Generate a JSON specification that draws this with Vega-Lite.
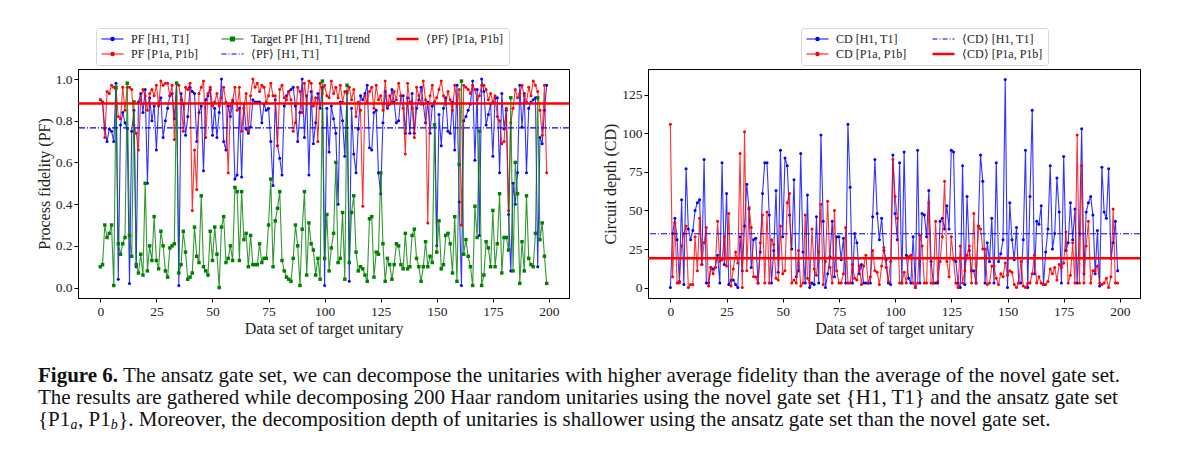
{
"$schema":"https://vega.github.io/schema/vega-lite/v6.json",
"background":"white",
"padding":{"left":35,"top":27,"right":0,"bottom":0},
"config":{
 "font":"Liberation Serif",
 "view":{"stroke":"black","strokeWidth":1},
 "axis":{"labelFont":"Liberation Serif","titleFont":"Liberation Serif","labelFontSize":13.5,"titleFontSize":16,"titleFontWeight":"normal","labelColor":"#222","titleColor":"#222","tickColor":"black","domainColor":"black","grid":false,"tickSize":4,"labelPadding":2,"titlePadding":3},
 "legend":{"labelFont":"Liberation Serif","labelFontSize":12,"labelColor":"#222","symbolSize":121,"labelOffset":18,"rowPadding":3,"columnPadding":20,"padding":5,"strokeColor":"#d6d6d6","fillColor":"white","cornerRadius":3,"symbolOpacity":1}
},
"datasets":{
"mm":[{"mpb":0.766,"mpr":0.882,"mcb":34.9,"mcr":19.1}],
"cap":[
{"line":1,"k":"fig","text":"Figure 6."},
{"line":1,"k":"t1","text":"The ansatz gate set, we can decompose the unitaries with higher average fidelity than the average of the novel gate set."},
{"line":2,"k":"t2","text":"The results are gathered while decomposing 200 Haar random unitaries using the novel gate set {H1, T1} and the ansatz gate set"},
{"line":3,"k":"s1","text":"{P1"},
{"line":3,"k":"sa","text":"a"},
{"line":3,"k":"s2","text":", P1"},
{"line":3,"k":"sb","text":"b"},
{"line":3,"k":"s3","text":"}. Moreover, the decomposition depth of unitaries is shallower using the ansatz gate set than the novel gate set."}
],
"d":[
{"i":0,"b":0.90,"r":0.90,"g":0.10,"cb":0,"cr":106},
{"i":1,"b":0.89,"r":0.89,"g":0.11,"cb":35,"cr":7},
{"i":2,"b":0.76,"r":0.72,"g":0.30,"cb":45,"cr":42},
{"i":3,"b":0.70,"r":0.94,"g":0.24,"cb":31,"cr":3},
{"i":4,"b":0.76,"r":0.93,"g":0.26,"cb":4,"cr":3},
{"i":5,"b":0.75,"r":0.97,"g":0.30,"cb":57,"cr":27},
{"i":6,"b":0.70,"r":0.96,"g":0.01,"cb":2,"cr":35},
{"i":7,"b":0.98,"r":0.95,"g":0.96,"cb":77,"cr":40},
{"i":8,"b":0.04,"r":0.82,"g":0.21,"cb":38,"cr":0},
{"i":9,"b":0.78,"r":0.81,"g":0.16,"cb":31,"cr":2},
{"i":10,"b":0.84,"r":0.96,"g":0.21,"cb":37,"cr":2},
{"i":11,"b":0.79,"r":0.85,"g":0.24,"cb":50,"cr":33},
{"i":12,"b":0.76,"r":0.96,"g":0.98,"cb":55,"cr":11},
{"i":13,"b":0.02,"r":0.96,"g":0.25,"cb":57,"cr":45},
{"i":14,"b":0.75,"r":0.95,"g":0.15,"cb":15,"cr":15},
{"i":15,"b":0.85,"r":0.78,"g":0.89,"cb":83,"cr":29},
{"i":16,"b":0.10,"r":0.74,"g":0.11,"cb":3,"cr":39},
{"i":17,"b":0.89,"r":0.66,"g":0.07,"cb":3,"cr":1},
{"i":18,"b":0.93,"r":0.90,"g":0.16,"cb":13,"cr":13},
{"i":19,"b":0.84,"r":0.95,"g":0.06,"cb":12,"cr":9},
{"i":20,"b":0.95,"r":0.92,"g":0.50,"cb":13,"cr":13},
{"i":21,"b":0.50,"r":0.85,"g":0.08,"cb":21,"cr":43},
{"i":22,"b":0.91,"r":0.93,"g":0.20,"cb":3,"cr":17},
{"i":23,"b":0.80,"r":0.95,"g":0.13,"cb":81,"cr":18},
{"i":24,"b":0.87,"r":0.92,"g":0.34,"cb":15,"cr":33},
{"i":25,"b":0.66,"r":0.97,"g":0.13,"cb":61,"cr":14},
{"i":26,"b":0.88,"r":0.87,"g":0.09,"cb":2,"cr":48},
{"i":27,"b":0.91,"r":0.99,"g":0.27,"cb":5,"cr":1},
{"i":28,"b":0.72,"r":0.97,"g":0.20,"cb":5,"cr":12},
{"i":29,"b":0.80,"r":0.98,"g":0.08,"cb":2,"cr":23},
{"i":30,"b":0.86,"r":0.98,"g":0.05,"cb":0,"cr":16},
{"i":31,"b":0.92,"r":0.92,"g":0.19,"cb":33,"cr":87},
{"i":32,"b":0.93,"r":0.97,"g":0.20,"cb":11,"cr":0},
{"i":33,"b":0.81,"r":0.71,"g":0.21,"cb":40,"cr":101},
{"i":34,"b":0.98,"r":0.98,"g":0.98,"cb":67,"cr":11},
{"i":35,"b":0.01,"r":0.97,"g":0.07,"cb":51,"cr":52},
{"i":36,"b":0.93,"r":0.90,"g":0.11,"cb":13,"cr":39},
{"i":37,"b":0.88,"r":0.75,"g":0.27,"cb":31,"cr":7},
{"i":38,"b":0.73,"r":0.96,"g":0.17,"cb":32,"cr":7},
{"i":39,"b":0.82,"r":0.95,"g":0.04,"cb":3,"cr":3},
{"i":40,"b":0.96,"r":0.98,"g":0.05,"cb":23,"cr":29},
{"i":41,"b":0.94,"r":0.37,"g":0.07,"cb":61,"cr":47},
{"i":42,"b":0.93,"r":0.66,"g":0.29,"cb":81,"cr":3},
{"i":43,"b":0.70,"r":0.47,"g":0.15,"cb":81,"cr":49},
{"i":44,"b":0.84,"r":0.93,"g":0.12,"cb":47,"cr":3},
{"i":45,"b":0.87,"r":0.96,"g":0.44,"cb":3,"cr":31},
{"i":46,"b":0.56,"r":0.99,"g":0.10,"cb":24,"cr":28},
{"i":47,"b":0.90,"r":0.72,"g":0.08,"cb":63,"cr":6},
{"i":48,"b":0.92,"r":0.93,"g":0.06,"cb":10,"cr":5},
{"i":49,"b":0.95,"r":0.96,"g":0.27,"cb":89,"cr":40},
{"i":50,"b":0.73,"r":0.87,"g":0.13,"cb":33,"cr":9},
{"i":51,"b":0.86,"r":0.89,"g":0.29,"cb":84,"cr":11},
{"i":52,"b":0.72,"r":0.93,"g":0.16,"cb":79,"cr":55},
{"i":53,"b":0.84,"r":0.87,"g":0.00,"cb":47,"cr":61},
{"i":54,"b":1.00,"r":0.91,"g":0.29,"cb":25,"cr":3},
{"i":55,"b":0.70,"r":0.96,"g":0.34,"cb":70,"cr":5},
{"i":56,"b":0.66,"r":0.89,"g":0.12,"cb":7,"cr":3},
{"i":57,"b":0.87,"r":0.55,"g":0.14,"cb":11,"cr":24},
{"i":58,"b":0.82,"r":0.87,"g":0.20,"cb":87,"cr":1},
{"i":59,"b":0.89,"r":0.90,"g":0.13,"cb":23,"cr":3},
{"i":60,"b":0.52,"r":0.96,"g":0.48,"cb":3,"cr":47},
{"i":61,"b":0.54,"r":0.85,"g":0.46,"cb":60,"cr":6},
{"i":62,"b":0.86,"r":0.96,"g":0.13,"cb":0,"cr":3},
{"i":63,"b":0.53,"r":0.75,"g":0.46,"cb":3,"cr":38},
{"i":64,"b":0.88,"r":0.86,"g":0.23,"cb":2,"cr":12},
{"i":65,"b":0.76,"r":0.93,"g":0.26,"cb":46,"cr":8},
{"i":66,"b":0.74,"r":0.75,"g":0.10,"cb":3,"cr":23},
{"i":67,"b":0.77,"r":0.92,"g":0.25,"cb":99,"cr":54},
{"i":68,"b":0.90,"r":1.00,"g":0.11,"cb":43,"cr":2},
{"i":69,"b":0.89,"r":0.96,"g":0.11,"cb":0,"cr":17},
{"i":70,"b":0.89,"r":0.98,"g":0.11,"cb":9,"cr":56},
{"i":71,"b":0.89,"r":0.94,"g":0.21,"cb":20,"cr":13},
{"i":72,"b":0.79,"r":0.97,"g":0.12,"cb":43,"cr":3},
{"i":73,"b":0.88,"r":0.96,"g":0.14,"cb":7,"cr":50},
{"i":74,"b":0.85,"r":0.89,"g":0.14,"cb":33,"cr":11},
{"i":75,"b":0.86,"r":0.92,"g":0.30,"cb":33,"cr":3},
{"i":76,"b":0.70,"r":0.98,"g":0.52,"cb":18,"cr":3},
{"i":77,"b":0.49,"r":0.92,"g":0.10,"cb":32,"cr":9},
{"i":78,"b":0.90,"r":0.92,"g":0.32,"cb":3,"cr":39},
{"i":79,"b":0.68,"r":0.68,"g":0.38,"cb":106,"cr":3},
{"i":80,"b":0.62,"r":0.95,"g":0.46,"cb":65,"cr":3},
{"i":81,"b":0.54,"r":0.97,"g":0.13,"cb":3,"cr":15},
{"i":82,"b":0.87,"r":0.91,"g":0.08,"cb":35,"cr":6},
{"i":83,"b":0.92,"r":0.90,"g":0.05,"cb":29,"cr":5},
{"i":84,"b":0.94,"r":0.94,"g":0.04,"cb":9,"cr":14},
{"i":85,"b":0.95,"r":0.90,"g":0.03,"cb":15,"cr":2},
{"i":86,"b":0.96,"r":0.75,"g":0.14,"cb":3,"cr":14},
{"i":87,"b":0.87,"r":0.79,"g":0.30,"cb":3,"cr":21},
{"i":88,"b":0.70,"r":0.96,"g":0.20,"cb":3,"cr":3},
{"i":89,"b":0.84,"r":0.94,"g":0.01,"cb":3,"cr":7},
{"i":90,"b":1.00,"r":0.84,"g":0.28,"cb":46,"cr":24},
{"i":91,"b":0.72,"r":0.98,"g":0.46,"cb":83,"cr":11},
{"i":92,"b":0.92,"r":0.88,"g":0.06,"cb":48,"cr":10},
{"i":93,"b":0.54,"r":0.99,"g":0.31,"cb":31,"cr":2},
{"i":94,"b":0.94,"r":0.98,"g":0.21,"cb":45,"cr":14},
{"i":95,"b":0.69,"r":0.87,"g":0.18,"cb":24,"cr":26},
{"i":96,"b":0.79,"r":0.91,"g":0.06,"cb":18,"cr":13},
{"i":97,"b":0.93,"r":0.70,"g":0.14,"cb":3,"cr":4},
{"i":98,"b":0.86,"r":0.98,"g":0.04,"cb":2,"cr":17},
{"i":99,"b":0.96,"r":0.93,"g":0.99,"cb":86,"cr":83},
{"i":100,"b":0.01,"r":0.97,"g":0.14,"cb":48,"cr":59},
{"i":101,"b":0.86,"r":0.92,"g":0.35,"cb":31,"cr":45},
{"i":102,"b":0.65,"r":0.91,"g":0.08,"cb":81,"cr":3},
{"i":103,"b":0.87,"r":0.99,"g":0.19,"cb":3,"cr":3},
{"i":104,"b":0.81,"r":0.93,"g":0.26,"cb":88,"cr":10},
{"i":105,"b":0.74,"r":0.96,"g":0.60,"cb":21,"cr":3},
{"i":106,"b":0.40,"r":0.91,"g":0.12,"cb":6,"cr":20},
{"i":107,"b":0.89,"r":0.97,"g":0.14,"cb":3,"cr":21},
{"i":108,"b":0.80,"r":0.89,"g":0.36,"cb":33,"cr":3},
{"i":109,"b":0.63,"r":0.94,"g":0.04,"cb":0,"cr":0},
{"i":110,"b":0.94,"r":0.93,"g":0.97,"cb":89,"cr":3},
{"i":111,"b":0.03,"r":0.96,"g":0.12,"cb":3,"cr":34},
{"i":112,"b":0.86,"r":0.90,"g":0.36,"cb":48,"cr":27},
{"i":113,"b":0.64,"r":0.95,"g":0.44,"cb":47,"cr":3},
{"i":114,"b":0.55,"r":0.82,"g":0.17,"cb":33,"cr":3},
{"i":115,"b":0.76,"r":0.89,"g":0.08,"cb":63,"cr":55},
{"i":116,"b":0.92,"r":0.85,"g":0.10,"cb":17,"cr":3},
{"i":117,"b":0.90,"r":0.39,"g":0.09,"cb":3,"cr":3},
{"i":118,"b":0.93,"r":0.92,"g":0.06,"cb":3,"cr":43},
{"i":119,"b":0.97,"r":0.89,"g":0.03,"cb":3,"cr":4},
{"i":120,"b":0.67,"r":0.94,"g":0.33,"cb":43,"cr":17},
{"i":121,"b":0.66,"r":0.96,"g":0.34,"cb":45,"cr":33},
{"i":122,"b":0.84,"r":0.86,"g":0.05,"cb":38,"cr":69},
{"i":123,"b":0.85,"r":0.97,"g":0.17,"cb":53,"cr":17},
{"i":124,"b":0.55,"r":0.90,"g":0.16,"cb":38,"cr":7},
{"i":125,"b":0.45,"r":0.92,"g":0.55,"cb":89,"cr":33},
{"i":126,"b":0.79,"r":0.85,"g":0.21,"cb":88,"cr":18},
{"i":127,"b":0.94,"r":0.99,"g":0.03,"cb":17,"cr":3},
{"i":128,"b":0.86,"r":0.87,"g":0.14,"cb":3,"cr":0},
{"i":129,"b":0.88,"r":0.92,"g":0.11,"cb":0,"cr":27},
{"i":130,"b":0.95,"r":0.89,"g":0.04,"cb":79,"cr":3},
{"i":131,"b":0.89,"r":0.94,"g":0.11,"cb":2,"cr":11},
{"i":132,"b":0.79,"r":0.90,"g":0.21,"cb":59,"cr":21},
{"i":133,"b":0.80,"r":0.98,"g":0.20,"cb":24,"cr":27},
{"i":134,"b":0.92,"r":0.92,"g":0.11,"cb":11,"cr":3},
{"i":135,"b":0.92,"r":0.86,"g":0.09,"cb":11,"cr":48},
{"i":136,"b":0.74,"r":0.64,"g":0.26,"cb":3,"cr":3},
{"i":137,"b":0.91,"r":0.98,"g":0.09,"cb":40,"cr":40},
{"i":138,"b":0.74,"r":0.89,"g":0.10,"cb":86,"cr":38},
{"i":139,"b":0.93,"r":0.86,"g":0.25,"cb":69,"cr":25},
{"i":140,"b":0.74,"r":0.72,"g":0.28,"cb":3,"cr":25},
{"i":141,"b":0.86,"r":0.96,"g":0.14,"cb":29,"cr":2},
{"i":142,"b":0.90,"r":0.92,"g":0.10,"cb":17,"cr":3},
{"i":143,"b":0.96,"r":0.88,"g":0.03,"cb":45,"cr":14},
{"i":144,"b":0.88,"r":0.99,"g":0.10,"cb":3,"cr":14},
{"i":145,"b":0.79,"r":0.90,"g":0.22,"cb":81,"cr":6},
{"i":146,"b":0.89,"r":0.31,"g":0.10,"cb":17,"cr":2},
{"i":147,"b":0.74,"r":0.92,"g":0.15,"cb":22,"cr":9},
{"i":148,"b":0.87,"r":0.97,"g":0.12,"cb":31,"cr":7},
{"i":149,"b":0.89,"r":0.89,"g":0.78,"cb":135,"cr":16},
{"i":150,"b":0.20,"r":0.91,"g":0.17,"cb":0,"cr":8},
{"i":151,"b":0.83,"r":0.95,"g":0.32,"cb":55,"cr":11},
{"i":152,"b":0.68,"r":0.99,"g":0.09,"cb":31,"cr":10},
{"i":153,"b":0.86,"r":0.92,"g":0.11,"cb":18,"cr":2},
{"i":154,"b":0.91,"r":0.88,"g":0.25,"cb":39,"cr":0},
{"i":155,"b":0.75,"r":0.94,"g":0.26,"cb":3,"cr":3},
{"i":156,"b":0.74,"r":0.90,"g":0.21,"cb":3,"cr":17},
{"i":157,"b":0.89,"r":0.85,"g":0.07,"cb":31,"cr":1},
{"i":158,"b":0.66,"r":0.97,"g":0.34,"cb":89,"cr":0},
{"i":159,"b":0.97,"r":0.88,"g":0.03,"cb":0,"cr":3},
{"i":160,"b":0.41,"r":0.95,"g":0.59,"cb":59,"cr":3},
{"i":161,"b":0.01,"r":0.30,"g":0.99,"cb":115,"cr":9},
{"i":162,"b":0.80,"r":0.97,"g":0.16,"cb":9,"cr":21},
{"i":163,"b":0.82,"r":0.96,"g":0.23,"cb":43,"cr":3},
{"i":164,"b":0.85,"r":0.95,"g":0.15,"cb":41,"cr":7},
{"i":165,"b":0.88,"r":0.93,"g":0.10,"cb":53,"cr":3},
{"i":166,"b":0.99,"r":0.97,"g":0.01,"cb":2,"cr":2},
{"i":167,"b":0.61,"r":0.95,"g":0.39,"cb":23,"cr":2},
{"i":168,"b":0.95,"r":0.90,"g":0.24,"cb":38,"cr":4},
{"i":169,"b":0.25,"r":0.92,"g":0.75,"cb":79,"cr":12},
{"i":170,"b":1.00,"r":0.97,"g":0.01,"cb":25,"cr":9},
{"i":171,"b":0.94,"r":0.97,"g":0.06,"cb":35,"cr":13},
{"i":172,"b":0.78,"r":0.95,"g":0.22,"cb":71,"cr":5},
{"i":173,"b":0.83,"r":0.90,"g":0.19,"cb":49,"cr":15},
{"i":174,"b":0.88,"r":0.93,"g":0.10,"cb":3,"cr":13},
{"i":175,"b":0.63,"r":0.89,"g":0.37,"cb":85,"cr":16},
{"i":176,"b":0.91,"r":0.92,"g":0.10,"cb":24,"cr":36},
{"i":177,"b":0.91,"r":0.82,"g":0.21,"cb":29,"cr":3},
{"i":178,"b":0.55,"r":0.80,"g":0.45,"cb":55,"cr":8},
{"i":179,"b":0.93,"r":0.69,"g":0.07,"cb":31,"cr":29},
{"i":180,"b":0.76,"r":0.70,"g":0.24,"cb":51,"cr":3},
{"i":181,"b":0.85,"r":0.86,"g":0.24,"cb":3,"cr":99},
{"i":182,"b":0.35,"r":0.37,"g":0.18,"cb":35,"cr":3},
{"i":183,"b":0.08,"r":0.79,"g":0.91,"cb":103,"cr":79},
{"i":184,"b":0.50,"r":0.86,"g":0.08,"cb":9,"cr":3},
{"i":185,"b":0.40,"r":0.95,"g":0.60,"cb":49,"cr":27},
{"i":186,"b":0.55,"r":0.91,"g":0.45,"cb":55,"cr":43},
{"i":187,"b":0.97,"r":0.93,"g":0.02,"cb":59,"cr":3},
{"i":188,"b":0.77,"r":0.97,"g":0.22,"cb":47,"cr":11},
{"i":189,"b":0.93,"r":0.92,"g":0.08,"cb":9,"cr":11},
{"i":190,"b":0.55,"r":0.89,"g":0.44,"cb":37,"cr":14},
{"i":191,"b":0.86,"r":0.96,"g":0.14,"cb":1,"cr":3},
{"i":192,"b":0.89,"r":0.92,"g":0.11,"cb":78,"cr":2},
{"i":193,"b":0.90,"r":0.99,"g":0.10,"cb":49,"cr":3},
{"i":194,"b":0.91,"r":0.97,"g":0.26,"cb":45,"cr":6},
{"i":195,"b":0.10,"r":0.94,"g":0.91,"cb":77,"cr":0},
{"i":196,"b":0.72,"r":0.85,"g":0.23,"cb":19,"cr":7},
{"i":197,"b":0.69,"r":0.73,"g":0.31,"cb":29,"cr":51},
{"i":198,"b":0.85,"r":0.97,"g":0.15,"cb":43,"cr":3},
{"i":199,"b":0.97,"r":0.55,"g":0.02,"cb":11,"cr":3}
]},
"vconcat":[
{"hconcat":[
 {"width":491,"height":229,
  "data":{"name":"d"},
  "layer":[
   {"mark":{"type":"line","strokeWidth":1.1,"opacity":0.8},
    "encoding":{
     "x":{"field":"i","type":"quantitative","scale":{"domain":[-9.95,208.95],"nice":false,"zero":false},"axis":{"values":[0,25,50,75,100,125,150,175,200],"title":"Data set of target unitary"}},
     "y":{"field":"b","type":"quantitative","scale":{"domain":[-0.05,1.048],"nice":false,"zero":false},"axis":{"values":[0,0.2,0.4,0.6,0.8,1.0],"format":".1f","title":"Process fidelity (PF)"}},
     "color":{"datum":"PF [H1, T1]","scale":{"domain":["PF [H1, T1]","PF [P1a, P1b]","Target PF [H1, T1] trend","⟨PF⟩ [H1, T1]","⟨PF⟩ [P1a, P1b]"],"range":["blue","red","green","blue","red"]},
      "legend":{"orient":"none","legendX":18,"legendY":-41,"columns":3,"title":null,
       "encode":{"symbols":{"update":{
        "shape":{"signal":"datum.value == 'Target PF [H1, T1] trend' ? 'M-1,0H3M0.65,-0.35H1.35V0.35H0.65Z' : (datum.value == 'PF [H1, T1]' || datum.value == 'PF [P1a, P1b]') ? 'M-1,0H3M1.3,0A0.3,0.3 0 1,1 0.7,0A0.3,0.3 0 1,1 1.3,0Z' : 'M-1,0H3'"},
        "fill":{"signal":"datum.value == 'Target PF [H1, T1] trend' ? 'green' : datum.value == 'PF [H1, T1]' ? 'blue' : datum.value == 'PF [P1a, P1b]' ? 'red' : 'transparent'"},
        "stroke":{"signal":"(datum.value == 'PF [H1, T1]' || datum.value == '⟨PF⟩ [H1, T1]') ? 'blue' : datum.value == 'Target PF [H1, T1] trend' ? 'green' : 'red'"},
        "strokeWidth":{"signal":"datum.value == '⟨PF⟩ [P1a, P1b]' ? 2.5 : 1.2"},
        "strokeDash":{"signal":"datum.value == '⟨PF⟩ [H1, T1]' ? [5,2,1,2] : []"},
        "opacity":{"value":1}
       }}}}}
    }},
   {"mark":{"type":"point","filled":true,"size":9,"opacity":1,"shape":"circle"},
    "encoding":{"x":{"field":"i","type":"quantitative"},"y":{"field":"b","type":"quantitative"},"color":{"datum":"PF [H1, T1]"}}},
   {"mark":{"type":"line","strokeWidth":1.1,"opacity":0.8},
    "encoding":{"x":{"field":"i","type":"quantitative"},"y":{"field":"r","type":"quantitative"},"color":{"datum":"PF [P1a, P1b]"}}},
   {"mark":{"type":"point","filled":true,"size":9,"opacity":1,"shape":"circle"},
    "encoding":{"x":{"field":"i","type":"quantitative"},"y":{"field":"r","type":"quantitative"},"color":{"datum":"PF [P1a, P1b]"}}},
   {"mark":{"type":"line","strokeWidth":1.1,"opacity":0.8},
    "encoding":{"x":{"field":"i","type":"quantitative"},"y":{"field":"g","type":"quantitative"},"color":{"datum":"Target PF [H1, T1] trend"}}},
   {"mark":{"type":"square","size":12,"opacity":1},
    "encoding":{"x":{"field":"i","type":"quantitative"},"y":{"field":"g","type":"quantitative"},"color":{"datum":"Target PF [H1, T1] trend"}}},
   {"data":{"name":"mm"},"mark":{"type":"rule","strokeWidth":1.2,"strokeDash":[6,2,1,2]},
    "encoding":{"y":{"field":"mpb","type":"quantitative"},"color":{"datum":"⟨PF⟩ [H1, T1]"}}},
   {"data":{"name":"mm"},"mark":{"type":"rule","strokeWidth":2.5},
    "encoding":{"y":{"field":"mpr","type":"quantitative"},"color":{"datum":"⟨PF⟩ [P1a, P1b]"}}}
  ]},
 {"width":492,"height":229,
  "data":{"name":"d"},
  "layer":[
   {"mark":{"type":"line","strokeWidth":1.1,"opacity":0.8},
    "encoding":{
     "x":{"field":"i","type":"quantitative","scale":{"domain":[-9.95,208.95],"nice":false,"zero":false},"axis":{"values":[0,25,50,75,100,125,150,175,200],"title":"Data set of target unitary"}},
     "y":{"field":"cb","type":"quantitative","scale":{"domain":[-6.75,141.75],"nice":false,"zero":false},"axis":{"values":[0,25,50,75,100,125],"title":"Circuit depth (CD)"}},
     "color":{"datum":"CD [H1, T1]","scale":{"domain":["CD [H1, T1]","CD [P1a, P1b]","⟨CD⟩ [H1, T1]","⟨CD⟩ [P1a, P1b]"],"range":["blue","red","blue","red"]},
      "legend":{"orient":"none","legendX":153,"legendY":-41,"columns":2,"title":null,
       "encode":{"symbols":{"update":{
        "shape":{"signal":"(datum.value == 'CD [H1, T1]' || datum.value == 'CD [P1a, P1b]') ? 'M-1,0H3M1.3,0A0.3,0.3 0 1,1 0.7,0A0.3,0.3 0 1,1 1.3,0Z' : 'M-1,0H3'"},
        "fill":{"signal":"datum.value == 'CD [H1, T1]' ? 'blue' : datum.value == 'CD [P1a, P1b]' ? 'red' : 'transparent'"},
        "stroke":{"signal":"(datum.value == 'CD [H1, T1]' || datum.value == '⟨CD⟩ [H1, T1]') ? 'blue' : 'red'"},
        "strokeWidth":{"signal":"datum.value == '⟨CD⟩ [P1a, P1b]' ? 2.5 : 1.2"},
        "strokeDash":{"signal":"datum.value == '⟨CD⟩ [H1, T1]' ? [5,2,1,2] : []"},
        "opacity":{"value":1}
       }}}}}
    }},
   {"mark":{"type":"point","filled":true,"size":9,"opacity":1,"shape":"circle"},
    "encoding":{"x":{"field":"i","type":"quantitative"},"y":{"field":"cb","type":"quantitative"},"color":{"datum":"CD [H1, T1]"}}},
   {"mark":{"type":"line","strokeWidth":1.1,"opacity":0.8},
    "encoding":{"x":{"field":"i","type":"quantitative"},"y":{"field":"cr","type":"quantitative"},"color":{"datum":"CD [P1a, P1b]"}}},
   {"mark":{"type":"point","filled":true,"size":9,"opacity":1,"shape":"circle"},
    "encoding":{"x":{"field":"i","type":"quantitative"},"y":{"field":"cr","type":"quantitative"},"color":{"datum":"CD [P1a, P1b]"}}},
   {"data":{"name":"mm"},"mark":{"type":"rule","strokeWidth":1.2,"strokeDash":[6,2,1,2]},
    "encoding":{"y":{"field":"mcb","type":"quantitative"},"color":{"datum":"⟨CD⟩ [H1, T1]"}}},
   {"data":{"name":"mm"},"mark":{"type":"rule","strokeWidth":2.5},
    "encoding":{"y":{"field":"mcr","type":"quantitative"},"color":{"datum":"⟨CD⟩ [P1a, P1b]"}}}
  ]}
 ],
 "spacing":31,
 "resolve":{"scale":{"color":"independent","x":"independent","y":"independent"},"legend":{"color":"independent"}}
},
{"width":1100,"height":66,
 "view":{"stroke":null},
 "data":{"name":"cap"},
 "encoding":{"y":{"field":"line","type":"ordinal","scale":{"type":"point","domain":[1,2,3],"padding":0.5},"axis":null},"x":{"value":-40},"text":{"field":"text"}},
 "layer":[
  {"transform":[{"filter":{"field":"k","equal":"fig"}}],"mark":{"type":"text","align":"left","baseline":"middle","fontSize":21,"fontWeight":"bold","color":"#111"}},
  {"transform":[{"filter":{"field":"k","equal":"t1"}}],"mark":{"type":"text","align":"left","baseline":"middle","fontSize":21,"dx":85,"color":"#111"}},
  {"transform":[{"filter":{"field":"k","oneOf":["t2","s1"]}}],"mark":{"type":"text","align":"left","baseline":"middle","fontSize":21,"color":"#111"}},
  {"transform":[{"filter":{"field":"k","equal":"sa"}}],"mark":{"type":"text","align":"left","baseline":"middle","fontSize":14,"fontStyle":"italic","dx":32.5,"dy":5,"color":"#111"}},
  {"transform":[{"filter":{"field":"k","equal":"s2"}}],"mark":{"type":"text","align":"left","baseline":"middle","fontSize":21,"dx":40,"color":"#111"}},
  {"transform":[{"filter":{"field":"k","equal":"sb"}}],"mark":{"type":"text","align":"left","baseline":"middle","fontSize":14,"fontStyle":"italic","dx":72.7,"dy":5,"color":"#111"}},
  {"transform":[{"filter":{"field":"k","equal":"s3"}}],"mark":{"type":"text","align":"left","baseline":"middle","fontSize":21,"dx":80.2,"color":"#111"}}
 ]}
],
"spacing":28
}
